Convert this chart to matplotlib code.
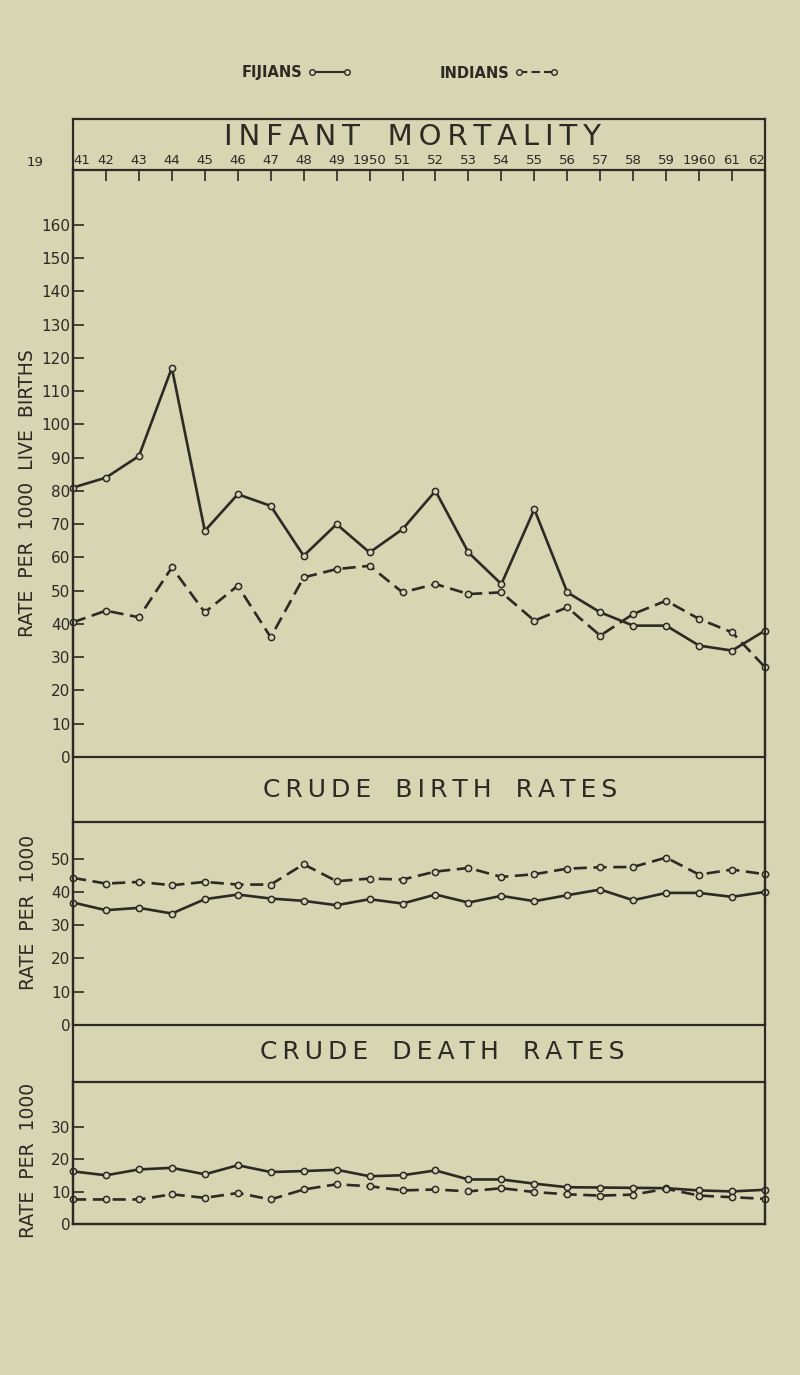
import numpy as np
import matplotlib.pyplot as plt
from matplotlib.lines import Line2D

years = list(range(1941, 1963))
year_labels = ['41', '42', '43', '44', '45', '46', '47', '48', '49', '1950',
               '51', '52', '53', '54', '55', '56', '57', '58', '59', '1960', '61', '62']

# infant mortality, rate per 1000 live births
im_fijians = [81, 84, 90.5, 117, 68, 79, 75.5, 60.5, 70, 61.5, 68.5,
              80, 61.5, 52, 74.5, 49.5, 43.5, 39.5, 39.5, 33.5, 32, 38]
im_indians = [40.5, 44, 42, 57, 43.5, 51.5, 36, 54, 56.5, 57.5, 49.5,
              52, 49, 49.5, 41, 45, 36.5, 43, 47, 41.5, 37.5, 27]

# crude birth rates, per 1000
br_fijians = [36.8, 34.5, 35.2, 33.5, 37.8, 39.2, 38.0, 37.3, 36.0, 37.8, 36.5,
              39.2, 36.8, 38.8, 37.2, 39.0, 40.7, 37.5, 39.7, 39.7, 38.5, 40.0]
br_indians = [44.2, 42.5, 43.0, 42.0, 43.0, 42.2, 42.2, 48.3, 43.2, 44.0, 43.7,
              46.1, 47.2, 44.5, 45.3, 47.0, 47.4, 47.5, 50.3, 45.2, 46.7, 45.3]

# crude death rates, per 1000
dr_fijians = [16.3, 15.1, 16.9, 17.4, 15.4, 18.2, 16.1, 16.4, 16.8, 14.8, 15.1,
              16.6, 13.8, 13.8, 12.5, 11.4, 11.3, 11.2, 11.1, 10.4, 10.1, 10.6]
dr_indians = [7.6, 7.6, 7.6, 9.2, 8.1, 9.6, 7.6, 10.7, 12.3, 11.7, 10.4,
              10.7, 10.1, 11.1, 9.9, 9.2, 8.8, 9.1, 10.9, 8.8, 8.3, 7.8]

paper = '#d8d5b3'
ink = '#2b2a24'
W, H = 800, 1375

fig = plt.figure(figsize=(8, 13.75), dpi=100, facecolor=paper)


def px_axes(left, top, right, bottom):
    return fig.add_axes([left / W, 1 - bottom / H, (right - left) / W, (bottom - top) / H])


def spaced(s):
    # letter spacing with thin spaces, like the stencilled headings
    return '\u2009'.join(s).replace('\u2009 \u2009', '   ')


# outer frame
frame = px_axes(73, 119, 765, 1224)
frame.set_facecolor('none')
frame.set_xticks([])
frame.set_yticks([])
for s in frame.spines.values():
    s.set_linewidth(1.6)
    s.set_color(ink)


def style(ax, top, yticks):
    ax.set_facecolor('none')
    ax.set_xlim(1941, 1962)
    ax.set_ylim(0, top)
    ax.set_yticks(yticks)
    ax.tick_params(axis='y', direction='in', length=8, width=1.2, color=ink,
                   labelsize=11, labelcolor=ink, pad=2)
    for s in ax.spines.values():
        s.set_linewidth(1.6)
        s.set_color(ink)


def plot_pair(ax, fij, ind):
    kw = dict(color=ink, marker='o', markersize=4.5, markerfacecolor=paper,
              markeredgecolor=ink, markeredgewidth=1.1, clip_on=False)
    ax.plot(years, fij, linestyle='-', linewidth=1.9, **kw)
    ax.plot(years, ind, linestyle=(0, (5, 2.5)), linewidth=1.9, **kw)


# infant mortality panel
ax1 = px_axes(73, 170, 765, 757)
style(ax1, 176.5, range(0, 161, 10))
ax1.xaxis.tick_top()
ax1.set_xticks(years)
ax1.set_xticklabels(year_labels)
ax1.tick_params(axis='x', direction='in', length=8, width=1.2, color=ink,
                labelsize=9.5, labelcolor=ink, pad=2)
ax1.get_xticklabels()[0].set_horizontalalignment('left')
ax1.get_xticklabels()[-1].set_horizontalalignment('right')
plot_pair(ax1, im_fijians, im_indians)
fig.text(35 / W, 1 - 163 / H, '19', fontsize=9.5, color=ink, ha='center', va='center')

# birth rate panel
ax2 = px_axes(73, 822, 765, 1025)
style(ax2, 61, range(0, 51, 10))
ax2.set_xticks([])
plot_pair(ax2, br_fijians, br_indians)

# death rate panel
ax3 = px_axes(73, 1082, 765, 1224)
style(ax3, 44, range(0, 31, 10))
ax3.set_xticks([])
plot_pair(ax3, dr_fijians, dr_indians)

# panel headings
fig.text(412 / W, 1 - 137 / H, spaced('INFANT MORTALITY'), fontsize=21, color=ink,
         ha='center', va='center')
fig.text(440 / W, 1 - 790 / H, spaced('CRUDE BIRTH RATES'), fontsize=18, color=ink,
         ha='center', va='center')
fig.text(442 / W, 1 - 1052 / H, spaced('CRUDE DEATH RATES'), fontsize=18, color=ink,
         ha='center', va='center')

# y axis titles
fig.text(28 / W, 1 - 493 / H, 'RATE  PER  1000  LIVE  BIRTHS', fontsize=13.5, color=ink,
         rotation=90, ha='center', va='center')
fig.text(28 / W, 1 - 912 / H, 'RATE  PER  1000', fontsize=13.5, color=ink,
         rotation=90, ha='center', va='center')
fig.text(28 / W, 1 - 1160 / H, 'RATE  PER  1000', fontsize=13.5, color=ink,
         rotation=90, ha='center', va='center')

# legend
mk = dict(color=ink, marker='o', markersize=4, markerfacecolor=paper,
          markeredgecolor=ink, linewidth=1.5)
handles = [Line2D([], [], linestyle='-', **mk),
           Line2D([], [], linestyle=(0, (4, 2)), **mk)]
fig.legend(handles, ['FIJIANS', 'INDIANS'], ncol=2, markerfirst=False, numpoints=2,
           loc='center', bbox_to_anchor=(400 / W, 1 - 73 / H), frameon=False,
           handlelength=3.0, columnspacing=6.0, handletextpad=0.4,
           prop={'size': 10.5, 'weight': 'bold'}, labelcolor=ink)

fig.savefig('out.png', dpi=100, facecolor=paper)
